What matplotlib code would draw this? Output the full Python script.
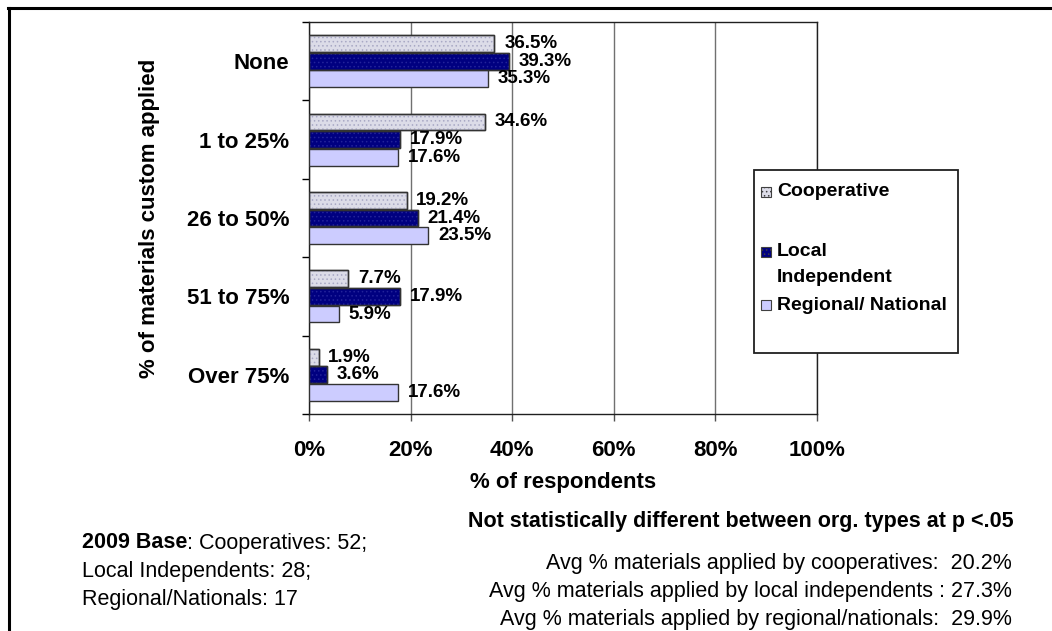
import numpy as np
import matplotlib
matplotlib.use('Agg')
import matplotlib.pyplot as plt
from matplotlib.patches import Rectangle
from matplotlib.lines import Line2D
from matplotlib.text import Annotation

plt.rcParams['font.family'] = ['Liberation Sans', 'DejaVu Sans']
plt.rcParams['hatch.linewidth'] = 0.6

categories = ['None', '1 to 25%', '26 to 50%', '51 to 75%', 'Over 75%']
series = ['Cooperative', 'Local\nIndependent', 'Regional/ National']
coop = [36.5, 34.6, 19.2, 7.7, 1.9]
local = [39.3, 17.9, 21.4, 17.9, 3.6]
regional = [35.3, 17.6, 23.5, 5.9, 17.6]
xticks = [0, 20, 40, 60, 80, 100]

face = ['#dcdce8', '#000080', '#ccccff']
hatch_col = ['#a8a8c4', '#23239a', None]
hatches = ['....', '....', None]

W, H = 1052, 631
fig = plt.figure(figsize=(W / 100, H / 100), dpi=100)
ax = fig.add_axes([309 / W, 1 - 414 / H, (817 - 309) / W, (414 - 22) / H])

y = np.arange(len(categories))
bh = 0.215
pitch = 0.225
for i, vals in enumerate([coop, local, regional]):
    pos = y + (i - 1) * pitch
    ax.barh(pos, vals, height=bh, color=face[i], edgecolor='#333333',
            linewidth=1, zorder=3)
    if hatches[i]:
        ax.barh(pos, vals, height=bh, color='none', edgecolor=hatch_col[i],
                hatch=hatches[i], linewidth=0, zorder=3)
        ax.barh(pos, vals, height=bh, color='none', edgecolor='#333333',
                linewidth=1, zorder=4)
    for p, v in zip(pos, vals):
        ax.annotate('%.1f%%' % v, (v, p), xytext=(7, 0), textcoords='offset points',
                    va='center', ha='left', fontsize=13.5, fontweight='bold', zorder=5)

ax.set_xlim(0, 100)
ax.set_ylim(len(categories) - 0.5, -0.5)
ax.set_xticks(xticks)
ax.set_xticklabels(['%d%%' % t for t in xticks], fontsize=16, fontweight='bold')
ax.set_yticks(y)
ax.set_yticklabels(categories, fontsize=16, fontweight='bold')
ax.set_yticks(np.arange(-0.5, len(categories), 1), minor=True)
ax.tick_params(axis='y', which='major', length=0, pad=14)
ax.tick_params(axis='y', which='minor', length=5, width=1)
ax.tick_params(axis='x', length=5, width=1, pad=14, color='#505050')
ax.xaxis.grid(True, color='#707070', linewidth=1, zorder=0)
for s in ax.spines.values():
    s.set_color('#202020')
    s.set_linewidth(1)

ax.set_xlabel('% of respondents', fontsize=16, fontweight='bold')
ax.xaxis.set_label_coords(0.5, (414 - 472) / 392)
ax.set_ylabel('% of materials custom applied', fontsize=16, fontweight='bold')
ax.yaxis.set_label_coords((160 - 309) / 508, 0.5)

# legend box
lx0, ly0, lx1, ly1 = 754, 170, 958, 353
fig.patches.append(Rectangle((lx0 / W, 1 - ly1 / H), (lx1 - lx0) / W, (ly1 - ly0) / H,
                             transform=fig.transFigure, facecolor='white',
                             edgecolor='#202020', linewidth=1.3, zorder=10))
entry_y = [192, 252, 305]
for i, lab in enumerate(series):
    yy = entry_y[i]
    sq = Rectangle((761 / W, 1 - (yy + 5) / H), 10 / W, 10 / H, transform=fig.transFigure,
                   facecolor=face[i], edgecolor='#404040', linewidth=0.8,
                   hatch=hatches[i], zorder=11)
    fig.patches.append(sq)
    for k, ln in enumerate(lab.split('\n')):
        fig.text(777 / W, 1 - (yy + 25 * k) / H, ln, fontsize=14, fontweight='bold',
                 va='center', ha='left', zorder=12)

# outer frame (top and left)
fig.lines.append(Line2D([8 / W, 1], [1 - 8 / H, 1 - 8 / H], transform=fig.transFigure,
                        color='black', linewidth=2.2))
fig.lines.append(Line2D([9 / W, 9 / W], [0, 1 - 8 / H], transform=fig.transFigure,
                        color='black', linewidth=2.2))

# notes
t1 = fig.text(82 / W, 1 - 543 / H, '2009 Base', fontsize=15.5, fontweight='bold', va='center')
fig.add_artist(Annotation(': Cooperatives: 52;', xy=(1, 0.5), xycoords=t1,
                          va='center', ha='left', fontsize=15.5))
fig.text(82 / W, 1 - 571 / H, 'Local Independents: 28;', fontsize=15.5, va='center')
fig.text(82 / W, 1 - 599 / H, 'Regional/Nationals: 17', fontsize=15.5, va='center')

fig.text(1014 / W, 1 - 522 / H, 'Not statistically different between org. types at p <.05',
         fontsize=15.5, fontweight='bold', ha='right', va='center')
avg_lines = ['Avg % materials applied by cooperatives:  20.2%',
             'Avg % materials applied by local independents : 27.3%',
             'Avg % materials applied by regional/nationals:  29.9%']
for k, ln in enumerate(avg_lines):
    fig.text(1012 / W, 1 - (564 + 28 * k) / H, ln, fontsize=15.5, ha='right', va='center')

fig.savefig('out.png', dpi=100)
